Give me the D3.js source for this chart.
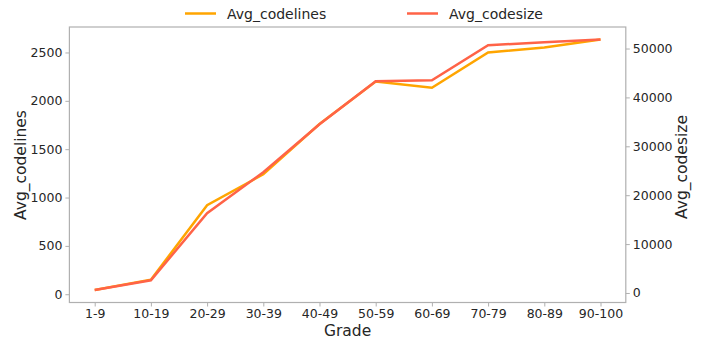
<!DOCTYPE html>
<html>
<head>
<meta charset="utf-8">
<script src="https://cdn.jsdelivr.net/npm/d3@7"></script>
<style>
  html, body { margin: 0; padding: 0; background: #fff; }
  svg { display: block; }
  text { font-family: "DejaVu Sans", sans-serif; fill: #262626; }
</style>
</head>
<body>
<svg id="chart" width="701" height="338"></svg>
<script>
// Grade buckets along the x axis
const grades = ["1-9", "10-19", "20-29", "30-39", "40-49", "50-59", "60-69", "70-79", "80-89", "90-100"];
// Average number of code lines per grade bucket (left axis)
const avgCodelines = [44, 150, 920, 1240, 1760, 2200, 2135, 2500, 2552, 2634];
// Average code size per grade bucket (right axis)
const avgCodesize = [614, 2600, 16300, 24700, 34500, 43300, 43500, 50680, 51290, 51840];
// Axis ticks
const leftTicks = [0, 500, 1000, 1500, 2000, 2500];
const rightTicks = [0, 10000, 20000, 30000, 40000, 50000];

const colorLines = "#FFA500";
const colorSize = "#FF6347";
const spineColor = "#b0b0b0";

const svg = d3.select("#chart");
const frame = { left: 69.4, right: 625.8, top: 27, bottom: 302.5 };

// Categorical positions with a 5% margin of the data span on each side
const inset = (frame.right - frame.left) * 0.05 / 1.1;
const x = d3.scalePoint()
  .domain(grades)
  .range([frame.left + inset, frame.right - inset])
  .padding(0);

function padded(vals) {
  const lo = d3.min(vals), hi = d3.max(vals), m = (hi - lo) * 0.05;
  return [lo - m, hi + m];
}
const yL = d3.scaleLinear().domain(padded(avgCodelines)).range([frame.bottom, frame.top]);
const yR = d3.scaleLinear().domain(padded(avgCodesize)).range([frame.bottom, frame.top]);

// Axes
const axB = svg.append("g").attr("transform", `translate(0,${frame.bottom})`)
  .call(d3.axisBottom(x).tickSize(4).tickPadding(3));
const axL = svg.append("g").attr("transform", `translate(${frame.left},0)`)
  .call(d3.axisLeft(yL).tickValues(leftTicks).tickSize(4).tickPadding(3).tickFormat(d3.format("d")));
const axR = svg.append("g").attr("transform", `translate(${frame.right},0)`)
  .call(d3.axisRight(yR).tickValues(rightTicks).tickSize(4).tickPadding(3).tickFormat(d3.format("d")));

[axB, axL, axR].forEach(g => {
  g.select(".domain").remove();
  g.selectAll(".tick line").attr("stroke", spineColor).attr("stroke-width", 1);
  g.selectAll(".tick text").style("font-size", "12.5px").attr("fill", "#262626");
});

// Frame
svg.append("rect")
  .attr("x", frame.left).attr("y", frame.top)
  .attr("width", frame.right - frame.left).attr("height", frame.bottom - frame.top)
  .attr("fill", "none").attr("stroke", spineColor).attr("stroke-width", 1.2);

// Lines
const lineL = d3.line().x((d, i) => x(grades[i])).y(d => yL(d));
const lineR = d3.line().x((d, i) => x(grades[i])).y(d => yR(d));

svg.append("path").datum(avgCodelines)
  .attr("d", lineL).attr("fill", "none")
  .attr("stroke", colorLines).attr("stroke-width", 2.5);
svg.append("path").datum(avgCodesize)
  .attr("d", lineR).attr("fill", "none")
  .attr("stroke", colorSize).attr("stroke-width", 2.5);

// Axis titles
svg.append("text")
  .attr("transform", `translate(26,165) rotate(-90)`)
  .attr("text-anchor", "middle").style("font-size", "15.5px")
  .text("Avg_codelines");
svg.append("text")
  .attr("transform", `translate(687,167) rotate(-90)`)
  .attr("text-anchor", "middle").style("font-size", "15.5px")
  .text("Avg_codesize");
svg.append("text")
  .attr("x", (frame.left + frame.right) / 2).attr("y", 335.5)
  .attr("text-anchor", "middle").style("font-size", "15.5px")
  .text("Grade");

// Legend
const legend = [
  { name: "Avg_codelines", color: colorLines, x0: 185 },
  { name: "Avg_codesize", color: colorSize, x0: 407 }
];
const lg = svg.append("g");
legend.forEach(l => {
  lg.append("line").attr("x1", l.x0).attr("x2", l.x0 + 31)
    .attr("y1", 13.5).attr("y2", 13.5)
    .attr("stroke", l.color).attr("stroke-width", 2.5);
  lg.append("text").attr("x", l.x0 + 42).attr("y", 18.5)
    .style("font-size", "14px").text(l.name);
});
</script>
</body>
</html>
